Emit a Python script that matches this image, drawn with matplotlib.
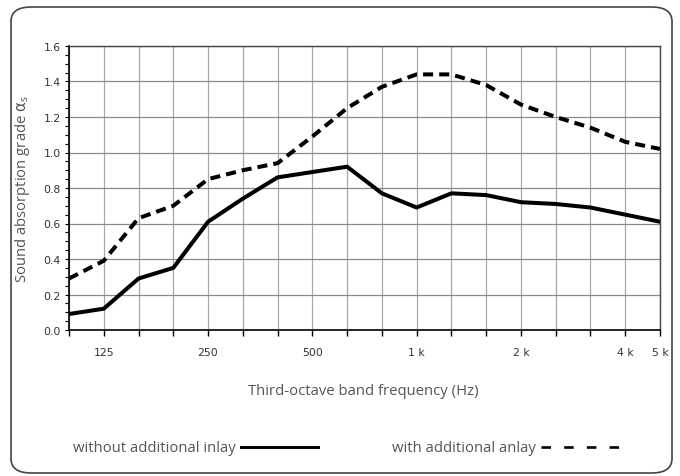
import matplotlib.pyplot as plt
import numpy as np
from matplotlib.patches import FancyBboxPatch
from matplotlib.lines import Line2D
from matplotlib.ticker import MultipleLocator

bands = ["100", "125", "160", "200", "250", "315", "400", "500", "630", "800",
         "1k", "1.25k", "1.6k", "2k", "2.5k", "3.15k", "4k", "5k"]
without_inlay = [0.09, 0.12, 0.29, 0.35, 0.61, 0.74, 0.86, 0.89, 0.92, 0.77,
                 0.69, 0.77, 0.76, 0.72, 0.71, 0.69, 0.65, 0.61]
with_inlay = [0.29, 0.39, 0.63, 0.70, 0.85, 0.90, 0.94, 1.09, 1.25, 1.37,
              1.44, 1.44, 1.38, 1.27, 1.20, 1.14, 1.06, 1.02]
tick_labels = {"125": "125", "250": "250", "500": "500", "1k": "1 k",
               "2k": "2 k", "4k": "4 k", "5k": "5 k"}
series_names = ["without additional inlay", "with additional anlay"]

label_font = "Open Sans"
grey = "#555555"
W, H = 680, 477

fig = plt.figure(figsize=(6.8, 4.77), dpi=100)
ax = fig.add_axes([69 / W, 1 - 331 / H, (660 - 69) / W, (331 - 47) / H])

# rounded frame around everything
frame = FancyBboxPatch((11 / W, 3 / H), (672 - 11) / W, (469 - 3) / H,
                       boxstyle="round,pad=0,rounding_size=0.03",
                       transform=fig.transFigure, fill=False,
                       edgecolor="#444444", linewidth=1.2, zorder=0)
fig.patches.append(frame)

x = np.arange(len(bands))
ax.plot(x, without_inlay, color="black", linewidth=2.9)
ax.plot(x, with_inlay, color="black", linewidth=2.9, dashes=(2.5, 1.5))

ax.set_xlim(0, len(bands) - 1)
ax.set_ylim(0, 1.6)
ax.set_xticks(x)
ax.set_xticklabels([tick_labels.get(b, "") for b in bands], fontsize=7.8, color="#333333")
ax.yaxis.set_minor_locator(MultipleLocator(0.05))
yt = np.arange(0, 1.61, 0.2)
ax.set_yticks(yt)
ax.set_yticklabels([f"{v:.1f}" for v in yt], fontsize=7.8, color="#333333")
ax.tick_params(axis="x", direction="out", length=4, width=1, pad=8)
ax.tick_params(axis="y", which="both", direction="out", length=3, width=0.8, pad=3)

ax.grid(axis="y", color="#8a8a8a", linewidth=0.9)
ax.grid(axis="x", color="#a8a8a8", linewidth=0.9)
ax.set_axisbelow(True)
for side in ["left", "bottom"]:
    ax.spines[side].set_color("black")
    ax.spines[side].set_linewidth(1.2)
for side in ["top", "right"]:
    ax.spines[side].set_color("#444444")
    ax.spines[side].set_linewidth(1.0)

ax.set_ylabel(r"Sound absorption grade $\mathrm{\alpha}_\mathregular{s}$", family=label_font,
              fontsize=10.7, color=grey, labelpad=8)
fig.text(363 / W, 1 - 392 / H, "Third-octave band frequency (Hz)", family=label_font,
         fontsize=10.7, color=grey, ha="center", va="center")

# legend drawn by hand: text then line sample
leg_y = 1 - 448 / H
fig.text(236 / W, leg_y, series_names[0], family=label_font, fontsize=10.7,
         color=grey, ha="right", va="center")
fig.add_artist(Line2D([241 / W, 318 / W], [leg_y, leg_y], transform=fig.transFigure,
                      color="black", linewidth=2.1))
fig.text(536 / W, leg_y, series_names[1], family=label_font, fontsize=10.7,
         color=grey, ha="right", va="center")
fig.add_artist(Line2D([541 / W, 622 / W], [leg_y, leg_y], transform=fig.transFigure,
                      color="black", linewidth=1.9, dashes=(3.6, 5.0)))

fig.savefig("out.png", dpi=100)
